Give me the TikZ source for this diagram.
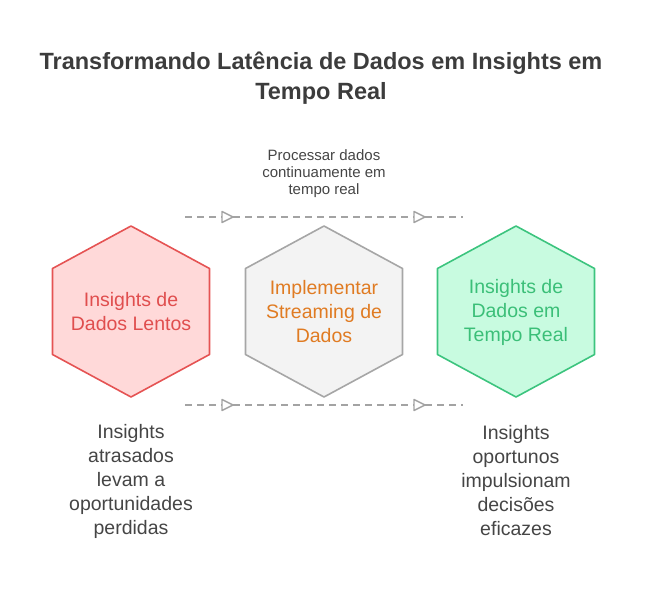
\documentclass[tikz,border=0pt]{standalone}
\usepackage{fontspec}
\setmainfont{Liberation Sans}
\usetikzlibrary{calc}
\definecolor{redS}{HTML}{E55353}
\definecolor{redF}{HTML}{FFD9D9}
\definecolor{redT}{HTML}{E04E4E}
\definecolor{grayS}{HTML}{A6A6A6}
\definecolor{grayF}{HTML}{F3F3F3}
\definecolor{orangeT}{HTML}{E07B22}
\definecolor{greenS}{HTML}{3CC47E}
\definecolor{greenF}{HTML}{C8FBE0}
\definecolor{greenT}{HTML}{3BBF78}
\definecolor{titleC}{HTML}{3C3C3C}
\definecolor{bodyC}{HTML}{454545}
\definecolor{dashC}{HTML}{A3A3A3}
\tikzset{
  hexlabel/.style={align=center,font=\fontsize{19.5}{24}\selectfont},
  desc/.style={align=center,text=bodyC,font=\fontsize{19.5}{24}\selectfont},
  flowline/.style={draw=dashC,line width=1.4pt,dash pattern=on 7pt off 5pt},
  tri/.style={draw=dashC,fill=white,line width=1.4pt,line join=round},
}
\newcommand{\hexagon}[4]{% center x, center y, stroke, fill
  \filldraw[draw=#3,fill=#4,line width=1.6pt,line join=round]
    (#1,#2-85.5) -- (#1+78.5,#2-43) -- (#1+78.5,#2+43) -- (#1,#2+85.5)
    -- (#1-78.5,#2+43) -- (#1-78.5,#2-43) -- cycle;}
\newcommand{\flowtri}[2]{%
  \filldraw[tri] (#1-5,#2-5.5) -- (#1+6,#2) -- (#1-5,#2+5.5) -- cycle;}
\begin{document}
\begin{tikzpicture}[x=1pt,y=-1pt]
\useasboundingbox (0,0) rectangle (648,600);
% title
\node[align=center,text=titleC,font=\bfseries\fontsize{23.5}{30}\selectfont] (title) at (321,78)
  {Transformando Latência de Dados em Insights em\\Tempo Real};
% dashed flow lines
\coordinate (tl) at (185,217); \coordinate (tr) at (463,217);
\coordinate (bl) at (185,405); \coordinate (br) at (463,405);
\draw[flowline] (tl) -- (tr);
\draw[flowline] (bl) -- (br);
\flowtri{227}{217}\flowtri{419}{217}
\flowtri{227}{405}\flowtri{419}{405}
% hexagons
\hexagon{131}{311.5}{redS}{redF}
\hexagon{324}{311.5}{grayS}{grayF}
\hexagon{516}{311.5}{greenS}{greenF}
\node[hexlabel,text=redT] (h1) at (131,312) {Insights de\\Dados Lentos};
\node[hexlabel,text=orangeT] (h2) at (324,312) {Implementar\\Streaming de\\Dados};
\node[hexlabel,text=greenT] (h3) at (516,312) {Insights de\\Dados em\\Tempo Real};
% top label
\node[align=center,text=bodyC,font=\fontsize{15}{17}\selectfont] (proc) at (324,174)
  {Processar dados\\continuamente em\\tempo real};
% descriptions
\node[desc] (d1) at (131,481) {Insights\\atrasados\\levam a\\oportunidades\\perdidas};
\node[desc] (d3) at (516,481) {Insights\\oportunos\\impulsionam\\decisões\\eficazes};
\end{tikzpicture}
\end{document}
